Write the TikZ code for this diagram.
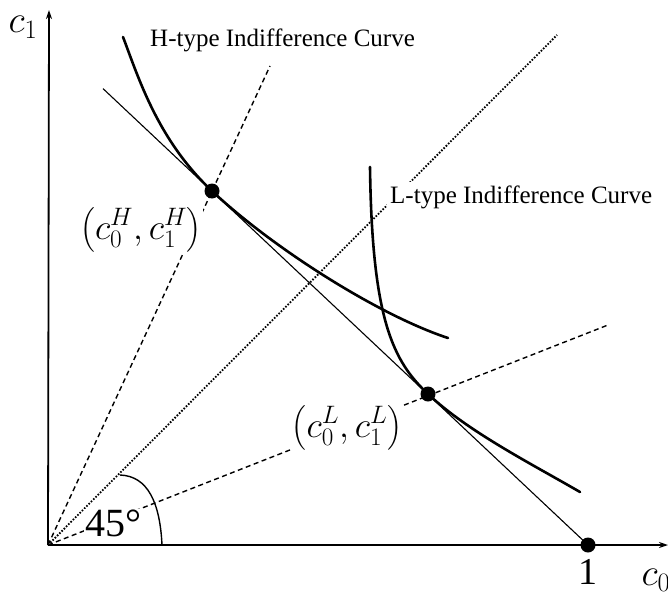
\RequirePackage{fix-cm}
\documentclass[tikz,border=0pt]{standalone}
\usepackage{amsmath}
\usepackage{fontspec}
\setmainfont{Liberation Serif}
\usetikzlibrary{arrows.meta}

\begin{document}
\begin{tikzpicture}[
    x=1pt, y=-1pt,
    >={Stealth[length=9pt, width=6pt]},
    axis/.style={
        ->,
        line width=1.8pt
    },
    budget/.style={
        line width=1.1pt
    },
    indiff/.style={
        line width=2.6pt,
        line cap=round
    },
    ray/.style={
        line width=1.4pt,
        dash pattern=on 5pt off 3.5pt
    },
    diag/.style={
        line width=1.8pt,
        dash pattern=on 1.6pt off 1.6pt
    },
    dot/.style={
        circle,
        fill=black,
        inner sep=0pt,
        minimum size=15pt
    },
    curvelabel/.style={
        font=\fontsize{25}{25}\selectfont,
        anchor=base west,
        fill=white,
        inner sep=3pt
    },
    pointlabel/.style={
        font=\fontsize{36}{36}\selectfont,
        fill=white,
        inner sep=1pt
    }
]
\useasboundingbox (0,0) rectangle (668,594);

% Key points
\coordinate (O) at (48,545);
\coordinate (H) at (212,191);
\coordinate (L) at (428,394);
\coordinate (one) at (588,545);
\coordinate (Htop) at (270,66);
\coordinate (Ltop) at (608,325);
\coordinate (diagtop) at (557,35);
\coordinate (budgettop) at (103,88.6);

% Axes
\coordinate (yend) at (49,10);
\coordinate (xend) at (668,545);
\draw[axis] (O) -- (yend);
\draw[axis] (O) -- (xend);
\node[font=\fontsize{38}{38}\selectfont] (c1) at (23,27) {$c_1$};
\node[font=\fontsize{38}{38}\selectfont] (c0) at (656,580) {$c_0$};
\node[font=\fontsize{38}{38}\selectfont] (onelabel) at (588,572) {1};

% Rays from the origin
\draw[ray] (O) -- (Htop);
\draw[ray] (O) -- (Ltop);
\draw[diag] (O) -- (diagtop);

% Labels over the rays
\node[pointlabel] (Hlabel) at (141,230) {$\left(c_0^H, c_1^H\right)$};
\node[pointlabel] (Llabel) at (347,428) {$\left(c_0^L, c_1^L\right)$};
\node[pointlabel, font=\fontsize{40}{40}\selectfont] (angle) at (113,523) {45°};
\node[curvelabel] (Hname) at (147,47) {H-type Indifference Curve};
\node[curvelabel] (Lname) at (387,203) {L-type Indifference Curve};

% Budget line
\draw[budget] (budgettop) -- (one);

% Indifference curves, tangent to the budget line at H and L
\draw[indiff] (123,37) .. controls (138,76) and (157,139.3) .. (H)
    .. controls (272,247.4) and (378,315) .. (448,338);
\draw[indiff] (370,167) .. controls (372,320) and (393,361.1) .. (L)
    .. controls (468,431.6) and (530,463) .. (580,492);

% 45 degree arc
\draw[line width=1.4pt] (162,545) .. controls (160,503) and (148,476) .. (120,475);

% Points
\node[dot] (Hdot) at (H) {};
\node[dot] (Ldot) at (L) {};
\node[dot] (onedot) at (one) {};

\end{tikzpicture}
\end{document}
